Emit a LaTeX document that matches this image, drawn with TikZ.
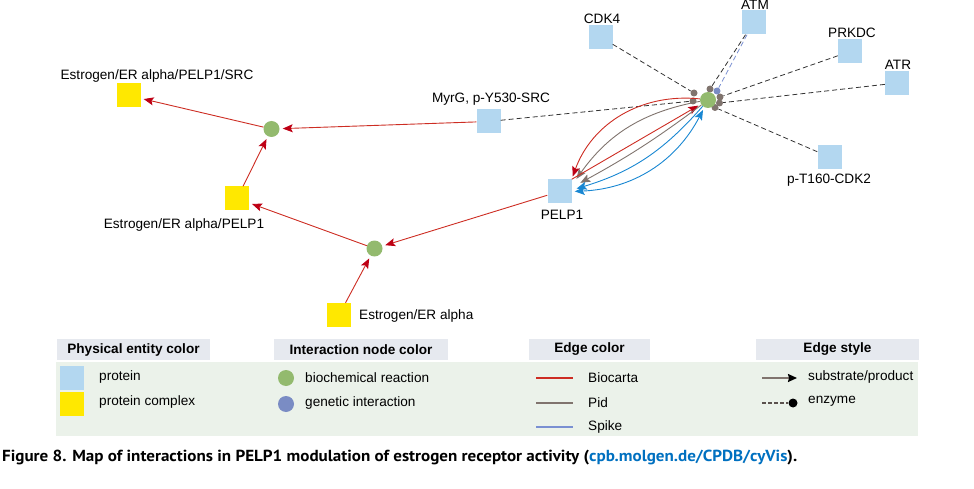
\documentclass[tikz,border=0pt]{standalone}
\usepackage{fontspec}
\setmainfont{Liberation Sans}
\newfontfamily\capfont{PT Sans}
\usetikzlibrary{arrows.meta}
\definecolor{cProt}{RGB}{179,215,240}
\definecolor{cCplx}{RGB}{255,232,0}
\definecolor{cRxn}{RGB}{147,186,110}
\definecolor{cGen}{RGB}{122,140,196}
\definecolor{cBioc}{RGB}{205,45,35}
\definecolor{cBiocD}{RGB}{190,0,20}
\definecolor{cPid}{RGB}{128,116,110}
\definecolor{cSpk}{RGB}{122,144,210}
\definecolor{cBlue}{RGB}{25,135,210}
\definecolor{cHdr}{RGB}{230,233,239}
\definecolor{cBg}{RGB}{235,242,234}
\definecolor{cLink}{RGB}{0,112,192}
\tikzset{
protbox/.style={rectangle,fill=cProt,minimum size=24pt,inner sep=0pt},
cplxbox/.style={rectangle,fill=cCplx,minimum size=24pt,inner sep=0pt},
rxn/.style={circle,fill=cRxn,minimum size=16pt,inner sep=0pt},
enzdot/.style={circle,fill=cPid,minimum size=7pt,inner sep=0pt},
lbl/.style={font=\fontsize{13.6}{16}\selectfont,inner sep=0pt},
hdr/.style={fill=cHdr,minimum height=21pt,inner sep=0pt,font=\bfseries\fontsize{13.6}{16}\selectfont},
bc/.style={draw=cBioc,line width=0.9pt,shorten >=3pt,-{Stealth[length=10pt,width=8pt,inset=2pt,color=cBiocD]}},
pe/.style={draw=cPid,line width=0.9pt,shorten >=3pt,-{Stealth[length=10pt,width=8pt,inset=2pt]}},
be/.style={draw=cBlue,line width=0.9pt,shorten >=3pt,-{Stealth[length=10pt,width=8pt,inset=2pt]}},
enz/.style={draw=black!80,line width=0.8pt,dash pattern=on 5pt off 3pt},
}
\begin{document}
\begin{tikzpicture}[x=1pt,y=-1pt]
\useasboundingbox (0,0) rectangle (974,489);
% 网络
\node[cplxbox] (cSRC) at (128.5,95.5) {};
\node[lbl] (tSRC) at (157,76) {Estrogen/ER alpha/PELP1/SRC};
\node[rxn] (rx1) at (271.5,129) {};
\node[cplxbox] (cPELP) at (237,198.5) {};
\node[lbl] (tPELPc) at (184,225) {Estrogen/ER alpha/PELP1};
\node[rxn] (rx2) at (374.5,248.5) {};
\node[cplxbox] (cER) at (339,315) {};
\node[lbl,anchor=west] (tER) at (359,316) {Estrogen/ER alpha};
\node[protbox] (myrg) at (488.5,121.5) {};
\node[lbl] (tmyrg) at (491,99) {MyrG, p-Y530-SRC};
\node[protbox] (pelp) at (559.5,191.5) {};
\node[lbl] (tpelp) at (562,215) {PELP1};
\node[protbox] (cdk4) at (600.5,37) {};
\node[lbl] (tcdk4) at (602,19) {CDK4};
\node[protbox] (atm) at (753.5,22.5) {};
\node[lbl] (tatm) at (755,5) {ATM};
\node[protbox] (prkdc) at (850,51.5) {};
\node[lbl] (tprkdc) at (852,33) {PRKDC};
\node[protbox] (atr) at (897,83) {};
\node[lbl] (tatr) at (898,65) {ATR};
\node[protbox] (cdk2) at (829.5,157) {};
\node[lbl] (tcdk2) at (829,180) {p-T160-CDK2};
% hub
\foreach \n/\x/\y in {d1/694/93,d2/710/89,d4/720/97,d5/719.5/103,d6/715/107.5,d7/693/101}
\node[enzdot] (\n) at (\x,\y) {};
\node[enzdot,fill=cGen] (d3) at (717,91) {};
\node[rxn] (hub) at (708,100) {};
\foreach \a/\b in {cdk4/d1,atm/d2,prkdc/d4,atr/d5,cdk2/d6,myrg/d7}
\draw[enz] (\a)--(\b);
\draw[enz,draw=cSpk] (atm)--(d3);
\draw[bc] (myrg)--(rx1);
\draw[bc] (rx1)--(cSRC);
\draw[bc] (cPELP)--(rx1);
\draw[bc] (rx2)--(cPELP);
\draw[bc] (pelp)--(rx2);
\draw[bc] (cER)--(rx2);
\draw[bc] (hub) to[bend right=38] (pelp.north east);
\draw[pe] (hub) to[bend right=22] ([xshift=3pt,yshift=-2pt]pelp.north east);
\draw[bc] (pelp.north east)--(hub);
\draw[pe] (hub) to[bend left=4] ([xshift=6pt,yshift=-5pt]pelp.north east);
\draw[be] (hub) to[bend left=16] ([xshift=2pt,yshift=2pt]pelp.east);
\draw[be,shorten <=3pt,{Stealth[length=10pt,width=8pt,inset=2pt]}-{Stealth[length=10pt,width=8pt,inset=2pt]}] (hub) to[bend left=30] (pelp.east);
% 图例
\fill[cBg] (56,362) rectangle (918,436);
\node[hdr,minimum width=153pt] (hPhys) at (133.5,349.5) {Physical entity color};
\node[hdr,minimum width=174pt] (hInt) at (361,349.5) {Interaction node color};
\node[hdr,minimum width=121pt] (hEdge) at (589.5,349.5) {Edge color};
\node[hdr,minimum width=163pt] (hStyle) at (837.5,349.5) {Edge style};
\node[protbox] (lgProt) at (71.5,377.5) {};
\node[cplxbox] (lgCplx) at (71.5,403.5) {};
\node[lbl,anchor=west] (tProt) at (99,377) {protein};
\node[lbl,anchor=west] (tCplx) at (99,402) {protein complex};
\node[rxn] (lgRxn) at (286,378) {};
\node[rxn,fill=cGen] (lgGen) at (286,404) {};
\node[lbl,anchor=west] (tRxn) at (305,378) {biochemical reaction};
\node[lbl,anchor=west] (tGen) at (305,403) {genetic interaction};
\foreach \c/\t/\y [count=\i] in {cBioc/Biocarta/378,cPid/Pid/403,cSpk/Spike/427}{
\coordinate (ea\i) at (536,\y);
\coordinate (eb\i) at (573,\y);
\draw[draw=\c,line width=1.8pt] (ea\i)--(eb\i);
\node[lbl,anchor=west] (te\i) at (588,\y) {\t};
}
\coordinate (sa1) at (762,378);
\coordinate (sb1) at (797,378);
\draw[cPid,line width=1.6pt,-{Stealth[length=9pt,width=8pt,inset=1pt,color=black]}] (sa1)--(sb1);
\node[lbl,anchor=west] (ts1) at (808,377) {substrate/product};
\coordinate (sa2) at (762,403);
\node[circle,fill=black,minimum size=9pt,inner sep=0pt] (sb2) at (793,403) {};
\draw[draw=cPid!70!black,line width=1.2pt,dash pattern=on 3.5pt off 2.5pt] (sa2)--(sb2);
\node[lbl,anchor=west] (ts2) at (808,401) {enzyme};
% 图注
\node[anchor=base west,inner sep=0pt] (cap) at (2,461) {\resizebox{795pt}{\height}{\capfont\bfseries\fontsize{16}{19}\selectfont Figure 8. Map of interactions in PELP1 modulation of estrogen receptor activity (\textcolor{cLink}{cpb.molgen.de/CPDB/cyVis}).}};
\end{tikzpicture}
\end{document}
